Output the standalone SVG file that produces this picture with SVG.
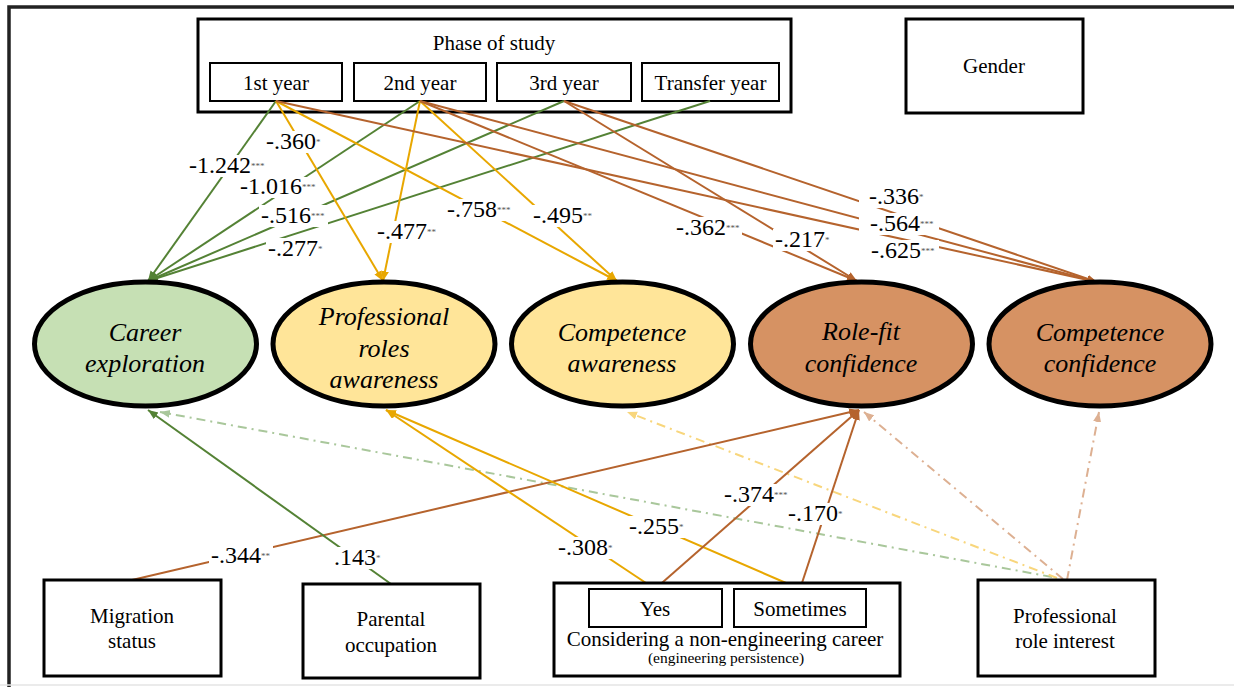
<svg xmlns="http://www.w3.org/2000/svg" width="1234" height="687" viewBox="0 0 1234 687">
<style>
.box{fill:#fff;stroke:#000;stroke-width:3}
.sub{fill:#fff;stroke:#000;stroke-width:2}
.t{font-family:'Liberation Serif',serif;font-size:21px;fill:#000;text-anchor:middle}
.sm{font-size:15.5px}
.el{stroke:#000;stroke-width:5}
.et{font-family:'Liberation Serif',serif;font-style:italic;font-size:26px;fill:#000;text-anchor:middle}
.c{fill:none;stroke-width:2}
.g{stroke:#548235;marker-end:url(#ag)}
.y{stroke:#E8A700;marker-end:url(#ay)}
.b{stroke:#B5632D;marker-end:url(#ab)}
.dd{stroke-width:2;fill:none;stroke-dasharray:9 5 2 5}
.dg{stroke:#A9C79B;marker-end:url(#adg)}
.dy{stroke:#F8D67C;marker-end:url(#ady)}
.db{stroke:#DDB092;marker-end:url(#adb)}
.lb{font-family:'Liberation Serif',serif;font-size:24px;fill:#000}
.st{font-size:9px;fill:#555}
.bg{fill:#fff}
</style>
<defs>
<marker id="ag" markerUnits="userSpaceOnUse" markerWidth="11" markerHeight="9" refX="10" refY="4" orient="auto"><path d="M0,0 L10,4 L0,8 z" fill="#548235"/></marker>
<marker id="ay" markerUnits="userSpaceOnUse" markerWidth="11" markerHeight="9" refX="10" refY="4" orient="auto"><path d="M0,0 L10,4 L0,8 z" fill="#E8A700"/></marker>
<marker id="ab" markerUnits="userSpaceOnUse" markerWidth="11" markerHeight="9" refX="10" refY="4" orient="auto"><path d="M0,0 L10,4 L0,8 z" fill="#B5632D"/></marker>
<marker id="adg" markerUnits="userSpaceOnUse" markerWidth="11" markerHeight="9" refX="10" refY="4" orient="auto"><path d="M0,0 L10,4 L0,8 z" fill="#A9C79B"/></marker>
<marker id="ady" markerUnits="userSpaceOnUse" markerWidth="11" markerHeight="9" refX="10" refY="4" orient="auto"><path d="M0,0 L10,4 L0,8 z" fill="#F8D67C"/></marker>
<marker id="adb" markerUnits="userSpaceOnUse" markerWidth="11" markerHeight="9" refX="10" refY="4" orient="auto"><path d="M0,0 L10,4 L0,8 z" fill="#DDB092"/></marker>
</defs>
<rect x="0" y="0" width="1234" height="687" fill="#fff"/>
<path d="M9,687 V7 H1234" fill="none" stroke="#222" stroke-width="3.5"/>
<line x1="0" y1="685" x2="1234" y2="685" stroke="#e4e4e4" stroke-width="1.5"/>

<g id="phase">
<rect class="box" x="198" y="19" width="593" height="93"/>
<text class="t" x="494" y="50">Phase of study</text>
</g>
<g id="year1"><rect class="sub" x="210" y="63" width="132" height="38"/><text class="t" x="276" y="90">1st year</text></g>
<g id="year2"><rect class="sub" x="354" y="63" width="132" height="38"/><text class="t" x="420" y="90">2nd year</text></g>
<g id="year3"><rect class="sub" x="497" y="63" width="134" height="38"/><text class="t" x="564" y="90">3rd year</text></g>
<g id="yearT"><rect class="sub" x="642" y="63" width="137" height="38"/><text class="t" x="710.5" y="90">Transfer year</text></g>
<g id="gender"><rect class="box" x="906" y="19" width="177" height="94"/><text class="t" x="994" y="73">Gender</text></g>

<g id="connectors">
<line class="c g" x1="276" y1="101" x2="148" y2="281"/>
<line class="c g" x1="420" y1="101" x2="148" y2="281"/>
<line class="c g" x1="564" y1="101" x2="148" y2="281"/>
<line class="c g" x1="710" y1="101" x2="148" y2="281"/>
<line class="c y" x1="276" y1="101" x2="383" y2="281"/>
<line class="c y" x1="276" y1="101" x2="617" y2="281"/>
<line class="c y" x1="420" y1="101" x2="383" y2="281"/>
<line class="c y" x1="420" y1="101" x2="617" y2="281"/>
<line class="c b" x1="276" y1="101" x2="1097" y2="282"/>
<line class="c b" x1="420" y1="101" x2="857" y2="281"/>
<line class="c b" x1="420" y1="101" x2="1097" y2="282"/>
<line class="c b" x1="564" y1="101" x2="857" y2="281"/>
<line class="c b" x1="564" y1="101" x2="1097" y2="282"/>
<line class="dd dg" x1="1052" y1="577" x2="160" y2="412"/>
<line class="dd dy" x1="1057" y1="578" x2="627" y2="412"/>
<line class="dd db" x1="1063" y1="579" x2="864" y2="412"/>
<line class="dd db" x1="1067" y1="580" x2="1099" y2="412"/>
<line class="c b" x1="132" y1="580" x2="859" y2="410"/>
<line class="c g" x1="391" y1="584" x2="148" y2="410"/>
<line class="c y" x1="655" y1="589" x2="386" y2="410"/>
<line class="c y" x1="800" y1="589" x2="386" y2="410"/>
<line class="c b" x1="655" y1="589" x2="859" y2="410"/>
<line class="c b" x1="800" y1="589" x2="859" y2="410"/>

<g id="labels">
<rect class="bg" x="187" y="155" width="81" height="22"/>
<text class="lb" x="189" y="173">-1.242<tspan class="st" dy="-4">***</tspan></text>
<rect class="bg" x="264" y="131" width="58" height="22"/>
<text class="lb" x="266" y="149">-.360<tspan class="st" dy="-4">*</tspan></text>
<rect class="bg" x="238" y="177" width="81" height="21"/>
<text class="lb" x="240" y="194">-1.016<tspan class="st" dy="-4">***</tspan></text>
<rect class="bg" x="259" y="205" width="69" height="22"/>
<text class="lb" x="261" y="223">-.516<tspan class="st" dy="-4">***</tspan></text>
<rect class="bg" x="266" y="238" width="58" height="22"/>
<text class="lb" x="268" y="256">-.277<tspan class="st" dy="-4">*</tspan></text>
<rect class="bg" x="375" y="221" width="62" height="22"/>
<text class="lb" x="377" y="239">-.477<tspan class="st" dy="-4">**</tspan></text>
<rect class="bg" x="445" y="199" width="68" height="22"/>
<text class="lb" x="447" y="217">-.758<tspan class="st" dy="-4">***</tspan></text>
<rect class="bg" x="531" y="205" width="62" height="22"/>
<text class="lb" x="533" y="223">-.495<tspan class="st" dy="-4">**</tspan></text>
<rect class="bg" x="674" y="217" width="68" height="22"/>
<text class="lb" x="676" y="235">-.362<tspan class="st" dy="-4">***</tspan></text>
<rect class="bg" x="773" y="229" width="58" height="22"/>
<text class="lb" x="775" y="247">-.217<tspan class="st" dy="-4">*</tspan></text>
<rect class="bg" x="859" y="186" width="72" height="22"/>
<text class="lb" x="869" y="204">-.336<tspan class="st" dy="-4">*</tspan></text>
<rect class="bg" x="859" y="213" width="80" height="22"/>
<text class="lb" x="870" y="231">-.564<tspan class="st" dy="-4">***</tspan></text>
<rect class="bg" x="859" y="240" width="80" height="22"/>
<text class="lb" x="871" y="258">-.625<tspan class="st" dy="-4">***</tspan></text>
<rect class="bg" x="209" y="545" width="64" height="22"/>
<text class="lb" x="211" y="563">-.344<tspan class="st" dy="-4">**</tspan></text>
<rect class="bg" x="332" y="547" width="50" height="22"/>
<text class="lb" x="334" y="565">.143<tspan class="st" dy="-4">*</tspan></text>
<rect class="bg" x="556" y="537" width="58" height="22"/>
<text class="lb" x="558" y="555">-.308<tspan class="st" dy="-4">*</tspan></text>
<rect class="bg" x="627" y="516" width="58" height="22"/>
<text class="lb" x="629" y="534">-.255<tspan class="st" dy="-4">*</tspan></text>
<rect class="bg" x="722" y="484" width="68" height="22"/>
<text class="lb" x="724" y="502">-.374<tspan class="st" dy="-4">***</tspan></text>
<rect class="bg" x="786" y="503" width="58" height="22"/>
<text class="lb" x="788" y="521">-.170<tspan class="st" dy="-4">*</tspan></text>
</g>
</g>

<g id="careerExploration">
<ellipse class="el" cx="145.5" cy="344" rx="111" ry="62" fill="#C6E0B4"/>
<text class="et" x="145" y="341">Career</text>
<text class="et" x="145" y="372">exploration</text>
</g>
<g id="professionalRolesAwareness">
<ellipse class="el" cx="384" cy="344" rx="111" ry="62" fill="#FFE599"/>
<text class="et" x="384" y="325">Professional</text>
<text class="et" x="384" y="357">roles</text>
<text class="et" x="384" y="388">awareness</text>
</g>
<g id="competenceAwareness">
<ellipse class="el" cx="622.5" cy="344" rx="111" ry="62" fill="#FFE599"/>
<text class="et" x="622" y="341">Competence</text>
<text class="et" x="622" y="372">awareness</text>
</g>
<g id="roleFitConfidence">
<ellipse class="el" cx="861.5" cy="344" rx="111" ry="62" fill="#D69263"/>
<text class="et" x="861" y="340">Role-fit</text>
<text class="et" x="861" y="372">confidence</text>
</g>
<g id="competenceConfidence">
<ellipse class="el" cx="1100" cy="344" rx="111" ry="62" fill="#D69263"/>
<text class="et" x="1100" y="341">Competence</text>
<text class="et" x="1100" y="372">confidence</text>
</g>

<g id="migration"><rect class="box" x="44" y="580" width="177" height="96"/><text class="t" x="132" y="623">Migration</text><text class="t" x="132" y="648">status</text></g>
<g id="parental"><rect class="box" x="303" y="584" width="177" height="94"/><text class="t" x="391" y="626">Parental</text><text class="t" x="391" y="652">occupation</text></g>
<g id="considering">
<rect class="box" x="554" y="583" width="346" height="93"/>
<text class="t" x="725" y="646">Considering a non-engineering career</text>
<text class="t sm" x="726" y="663">(engineering persistence)</text>
</g>
<g id="yes"><rect class="sub" x="589" y="589" width="133" height="38"/><text class="t" x="655" y="616">Yes</text></g>
<g id="sometimes"><rect class="sub" x="734" y="589" width="132" height="38"/><text class="t" x="800" y="616">Sometimes</text></g>
<g id="profRoleInterest"><rect class="box" x="978" y="580" width="177" height="96"/><text class="t" x="1065" y="623">Professional</text><text class="t" x="1065" y="648">role interest</text></g>
</svg>
